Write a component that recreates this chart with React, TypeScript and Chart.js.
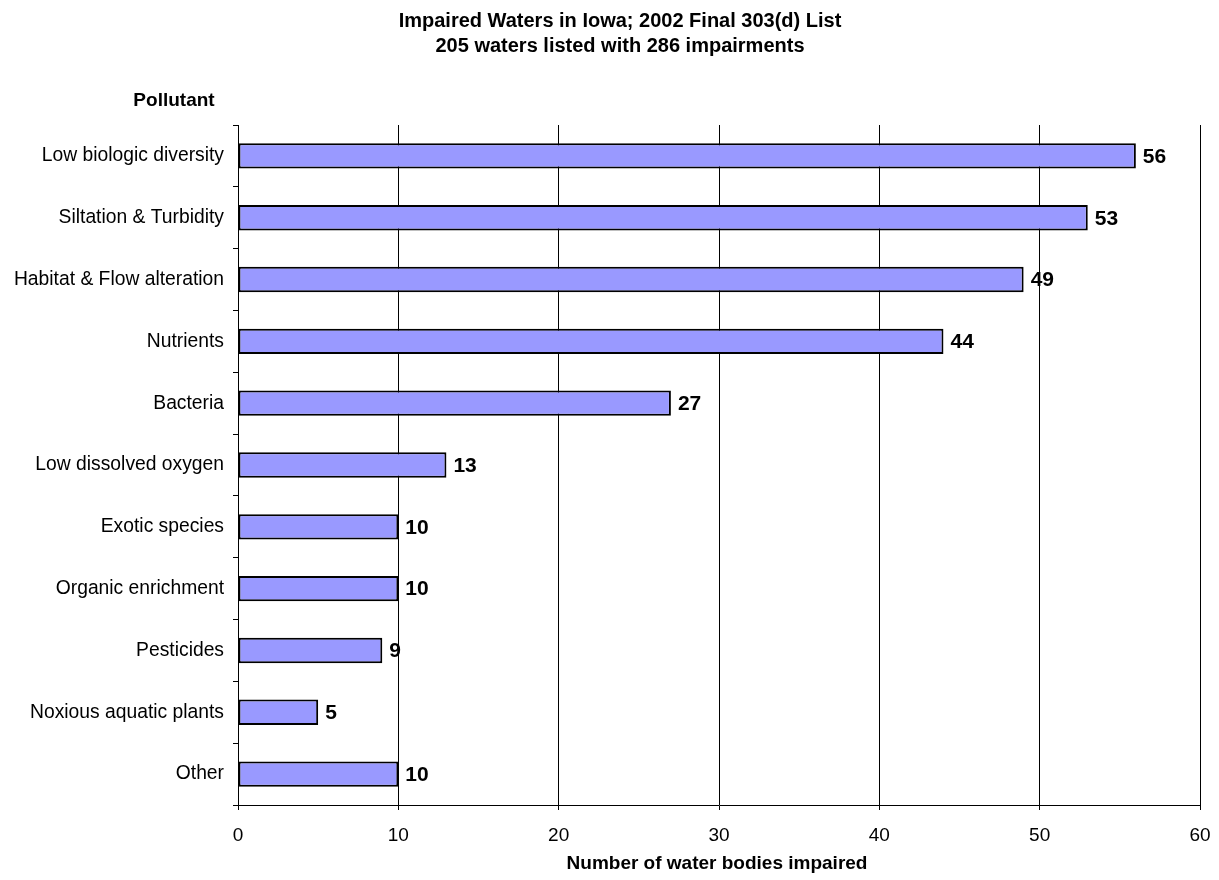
import React, { useEffect, useRef } from "react";
import { Chart, registerables } from "chart.js";

Chart.register(...registerables);

const categories = [
  "Low biologic diversity",
  "Siltation & Turbidity",
  "Habitat & Flow alteration",
  "Nutrients",
  "Bacteria",
  "Low dissolved oxygen",
  "Exotic species",
  "Organic enrichment",
  "Pesticides",
  "Noxious aquatic plants",
  "Other",
];
const counts = [56, 53, 49, 44, 27, 13, 10, 10, 9, 5, 10];
const titleLines = [
  "Impaired Waters in Iowa; 2002 Final 303(d) List",
  "205 waters listed with 286 impairments",
];
const yAxisLabel = "Pollutant";
const xAxisLabel = "Number of water bodies impaired";
const xMin = 0;
const xMax = 60;
const xStep = 10;

const FONT = "'Liberation Sans', Arial, Helvetica, sans-serif";

const textPlugin = {
  id: "textPlugin",
  afterDraw(chart: any) {
    const ctx = chart.ctx;
    const area = chart.chartArea;
    ctx.save();
    ctx.fillStyle = "#000";
    // title
    ctx.font = `bold 20px ${FONT}`;
    ctx.textAlign = "center";
    ctx.textBaseline = "middle";
    ctx.fillText(titleLines[0], 620, 21);
    ctx.fillText(titleLines[1], 620, 46);
    // y axis label
    ctx.font = `bold 19px ${FONT}`;
    ctx.fillText(yAxisLabel, 174, 101);
    // x axis label
    ctx.fillText(xAxisLabel, (area.left + area.right) / 2 - 2, 864);
    // data labels
    const meta = chart.getDatasetMeta(0);
    ctx.font = `bold 21px ${FONT}`;
    ctx.textAlign = "left";
    meta.data.forEach((bar: any, i: number) => {
      ctx.fillText(String(counts[i]), bar.x + 7, bar.y + 1);
    });
    ctx.restore();
  },
};

export default function App() {
  const ref = useRef<HTMLCanvasElement>(null);
  useEffect(() => {
    if (!ref.current) return;
    const chart = new Chart(ref.current, {
      type: "bar",
      data: {
        labels: categories,
        datasets: [
          {
            data: counts,
            backgroundColor: "#9999FF",
            borderColor: "#000",
            borderWidth: 2,
            borderSkipped: false,
            barPercentage: 0.41,
            categoryPercentage: 1,
          },
        ],
      },
      options: {
        indexAxis: "y",
        animation: false,
        responsive: false,
        maintainAspectRatio: false,
        layout: { padding: { top: 125, right: 19, left: 0, bottom: 0 } },
        plugins: {
          legend: { display: false },
          title: { display: false },
          tooltip: { enabled: false },
        },
        scales: {
          x: {
            type: "linear",
            min: xMin,
            max: xMax,
            ticks: {
              stepSize: xStep,
              color: "#000",
              font: { family: FONT, size: 19 },
              padding: 14,
            },
            grid: {
              color: "#000",
              lineWidth: 1,
              drawTicks: true,
              tickLength: 5,
            },
            border: { display: true, color: "#000", width: 1 },
            afterFit: (scale: any) => {
              scale.height = 75;
              scale.paddingLeft = 0;
              scale.paddingRight = 0;
            },
          },
          y: {
            type: "category",
            offset: true,
            ticks: {
              color: "#000",
              font: { family: FONT, size: 19.3 },
              padding: 9,
            },
            grid: {
              offset: true,
              drawOnChartArea: false,
              drawTicks: true,
              tickLength: 5,
              color: "#000",
              lineWidth: 1,
            },
            border: { display: true, color: "#000", width: 1 },
            afterFit: (scale: any) => {
              scale.width = 238;
              scale.paddingTop = 0;
              scale.paddingBottom = 0;
            },
          },
        },
      },
      plugins: [textPlugin],
    });
    return () => chart.destroy();
  }, []);
  return (
    <div style={{ position: "absolute", left: 0, top: 0, width: 1219, height: 880, background: "#fff" }}>
      <canvas ref={ref} width={1219} height={880} style={{ width: 1219, height: 880 }} />
    </div>
  );
}
